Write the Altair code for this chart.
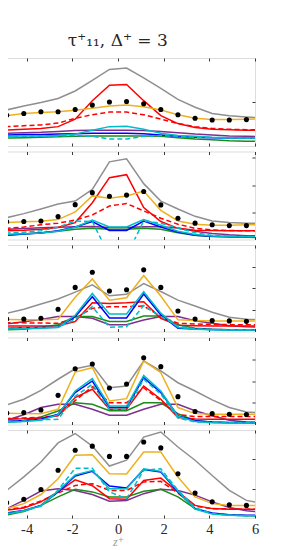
import altair as alt
import pandas as pd

# x positions of the model curves and of the reference (DNS) dots
LX = [-5.625, -4.875, -4.125, -3.375, -2.625, -1.875, -1.125, -0.375,
      0.375, 1.125, 1.875, 2.625, 3.375, 4.125, 4.875, 5.625, 6.375]
DX = LX[:16]

# draw order, colours and dash styles of the model curves
SERIES = ["gray", "purple", "green", "red", "red_d", "yellow", "blue", "cyan", "cyan_d"]
COLORS = {"gray": "#8f8f8f", "purple": "#7e2f8e", "green": "#1a8c1a", "red": "#ff0000",
          "red_d": "#ff0000", "yellow": "#edb120", "blue": "#0000ff", "cyan": "#00bcc8",
          "cyan_d": "#00bcc8"}
DASHED = {"red_d", "cyan_d"}

# ---- panel 1 ----
p1_gray   = [0.76,0.82,0.91,0.99,1.08,1.25,1.49,1.74,1.77,1.55,1.31,1.06,0.88,0.74,0.69,0.66,0.63]
p1_red    = [0.35,0.36,0.38,0.40,0.44,0.61,1.03,1.38,1.40,1.03,0.69,0.51,0.42,0.38,0.37,0.36,0.36]
p1_red_d  = [0.41,0.44,0.46,0.48,0.52,0.63,0.71,0.77,0.77,0.71,0.61,0.51,0.44,0.40,0.38,0.37,0.37]
p1_yellow = [0.65,0.69,0.74,0.76,0.78,0.81,0.86,0.91,0.93,0.89,0.82,0.71,0.63,0.60,0.60,0.61,0.62]
p1_purple = [0.28,0.29,0.30,0.31,0.33,0.35,0.36,0.36,0.36,0.35,0.33,0.30,0.27,0.25,0.23,0.22,0.21]
p1_green  = [0.17,0.18,0.19,0.20,0.21,0.22,0.23,0.23,0.23,0.23,0.22,0.19,0.16,0.14,0.12,0.11,0.11]
p1_blue   = [0.25,0.25,0.26,0.26,0.27,0.28,0.29,0.29,0.29,0.28,0.25,0.22,0.20,0.19,0.18,0.18,0.18]
p1_cyan   = [0.22,0.22,0.23,0.23,0.24,0.27,0.36,0.44,0.45,0.38,0.29,0.24,0.22,0.20,0.19,0.18,0.18]
p1_cyan_d = [0.21,0.21,0.22,0.22,0.23,0.24,0.22,0.16,0.16,0.22,0.24,0.22,0.20,0.19,0.18,0.18,0.18]
p1_dots   = [0.68,0.70,0.74,0.78,0.78,0.83,0.93,1.00,1.01,0.96,0.83,0.71,0.63,0.59,0.59,0.60]

# ---- panel 2 ----
p2_gray   = [0.72,0.80,0.95,1.12,1.30,1.41,1.84,2.85,2.96,2.05,1.41,1.12,0.85,0.68,0.62,0.60,0.59]
p2_red    = [0.29,0.32,0.34,0.38,0.44,0.62,1.35,2.27,2.38,1.17,0.66,0.41,0.34,0.33,0.32,0.32,0.32]
p2_red_d  = [0.38,0.41,0.46,0.54,0.60,0.71,0.90,1.23,1.32,1.05,0.78,0.56,0.41,0.35,0.33,0.32,0.32]
p2_yellow = [0.60,0.62,0.65,0.67,0.73,1.01,1.60,1.51,1.60,1.78,1.07,0.68,0.56,0.52,0.52,0.54,0.54]
p2_purple = [0.34,0.37,0.40,0.43,0.45,0.47,0.48,0.44,0.44,0.47,0.47,0.42,0.30,0.22,0.17,0.14,0.13]
p2_green  = [0.12,0.15,0.20,0.25,0.30,0.38,0.41,0.38,0.38,0.41,0.38,0.25,0.16,0.11,0.09,0.08,0.07]
p2_blue   = [0.13,0.16,0.20,0.24,0.32,0.46,0.66,0.33,0.33,0.68,0.46,0.27,0.16,0.12,0.11,0.10,0.10]
p2_cyan   = [0.17,0.19,0.21,0.24,0.30,0.45,0.71,0.46,0.46,0.73,0.52,0.30,0.18,0.13,0.11,0.10,0.10]
p2_cyan_d = [0.22,0.24,0.27,0.32,0.45,0.68,0.66,-0.60,-0.60,0.68,0.60,0.42,0.25,0.15,0.12,0.11,0.10]
p2_dots   = [0.64,0.65,0.66,0.68,0.84,1.28,1.72,1.59,1.63,1.76,1.27,0.78,0.60,0.54,0.51,0.51]

# ---- panel 3 ----
p3_gray   = [0.72,0.84,1.03,1.27,1.50,1.82,2.16,1.65,1.72,2.22,1.85,1.45,1.18,0.89,0.66,0.57,0.54]
p3_red    = [0.25,0.25,0.25,0.25,0.27,0.46,1.33,1.30,1.33,1.38,0.61,0.29,0.27,0.26,0.26,0.26,0.26]
p3_red_d  = [0.41,0.41,0.40,0.39,0.38,0.61,1.07,1.15,1.15,1.18,0.69,0.38,0.35,0.33,0.32,0.31,0.31]
p3_yellow = [0.57,0.55,0.54,0.54,0.57,1.58,2.43,1.45,1.56,2.59,1.64,0.54,0.51,0.49,0.49,0.49,0.49]
p3_purple = [0.33,0.35,0.45,0.55,0.69,0.69,0.61,0.31,0.31,0.53,0.69,0.69,0.50,0.38,0.27,0.22,0.20]
p3_green  = [0.08,0.08,0.10,0.20,0.31,0.69,0.69,0.46,0.46,0.72,0.72,0.31,0.15,0.10,0.08,0.08,0.08]
p3_blue   = [0.15,0.15,0.17,0.18,0.20,0.69,1.61,0.63,0.63,1.73,0.77,0.15,0.11,0.09,0.08,0.08,0.08]
p3_cyan   = [0.12,0.12,0.13,0.15,0.18,0.75,1.76,0.81,0.81,1.84,0.85,0.18,0.10,0.08,0.07,0.07,0.07]
p3_cyan_d = [0.16,0.16,0.17,0.18,0.20,0.55,1.15,0.20,0.22,1.20,0.70,0.25,0.12,0.09,0.08,0.08,0.08]
p3_dots   = [0.58,0.58,0.58,0.61,1.03,2.04,2.74,1.87,1.93,2.85,2.04,0.95,0.58,0.51,0.49,0.47]

# ---- panel 4 ----
p4_gray   = [0.70,0.90,1.16,1.57,2.08,2.56,2.72,1.69,1.77,2.92,2.46,1.92,1.54,1.13,0.78,0.58,0.52]
p4_red    = [0.22,0.24,0.26,0.30,0.40,1.24,1.62,0.70,0.70,1.77,1.16,0.32,0.25,0.24,0.24,0.24,0.24]
p4_red_d  = [0.27,0.28,0.30,0.33,0.42,1.10,1.74,1.00,1.00,1.69,1.10,0.45,0.37,0.37,0.37,0.37,0.37]
p4_yellow = [0.50,0.52,0.50,0.49,0.70,2.41,2.61,1.08,1.19,2.92,2.38,0.78,0.50,0.47,0.47,0.47,0.47]
p4_purple = [0.10,0.20,0.45,0.78,0.93,0.93,0.70,0.43,0.43,0.70,0.93,0.93,0.63,0.40,0.20,0.12,0.09]
p4_green  = [0.09,0.11,0.15,0.35,0.62,1.00,0.93,0.63,0.63,1.00,1.00,0.50,0.18,0.10,0.08,0.07,0.06]
p4_blue   = [0.14,0.15,0.18,0.24,0.47,1.47,2.00,0.78,0.78,2.15,1.47,0.40,0.17,0.11,0.09,0.09,0.09]
p4_cyan   = [0.10,0.11,0.14,0.20,0.45,1.54,2.11,0.85,0.85,2.26,1.54,0.38,0.14,0.08,0.07,0.07,0.07]
p4_cyan_d = [0.12,0.13,0.16,0.22,0.24,1.30,1.85,0.70,0.70,2.08,1.40,0.30,0.12,0.09,0.08,0.08,0.08]
p4_dots   = [0.50,0.52,0.55,0.67,1.34,2.56,2.78,1.68,1.86,3.07,2.66,1.28,0.60,0.50,0.47,0.46]

# ---- panel 5 ----
p5_gray   = [0.85,0.94,1.40,1.91,2.56,2.88,2.45,1.77,1.97,2.76,2.93,2.42,1.97,1.45,0.94,0.60,0.49]
p5_red    = [0.24,0.27,0.34,0.55,0.89,1.30,1.10,0.66,0.64,1.28,1.36,0.89,0.43,0.32,0.30,0.30,0.30]
p5_red_d  = [0.26,0.29,0.37,0.58,0.85,1.11,1.17,0.94,0.94,1.23,1.25,0.85,0.40,0.32,0.31,0.30,0.30]
p5_yellow = [0.28,0.32,0.49,0.80,1.34,2.14,2.16,1.51,1.50,2.25,2.25,1.40,0.72,0.49,0.43,0.43,0.43]
p5_purple = [0.22,0.32,0.60,0.92,1.00,0.94,0.80,0.57,0.60,0.83,0.98,0.94,0.78,0.55,0.36,0.25,0.20]
p5_green  = [0.07,0.10,0.22,0.43,0.72,0.98,0.89,0.72,0.72,0.91,0.98,0.72,0.32,0.15,0.10,0.08,0.07]
p5_blue   = [0.15,0.17,0.26,0.43,0.89,1.43,1.59,1.09,1.02,1.65,1.57,0.89,0.32,0.17,0.11,0.09,0.09]
p5_cyan   = [0.12,0.14,0.24,0.42,0.92,1.47,1.62,1.00,1.00,1.68,1.59,0.92,0.30,0.14,0.09,0.08,0.08]
p5_cyan_d = [0.13,0.15,0.25,0.40,0.95,1.70,1.70,0.89,0.66,1.62,1.68,0.95,0.35,0.15,0.10,0.08,0.08]
p5_dots   = [0.45,0.52,0.64,0.97,1.63,2.31,2.45,2.10,2.10,2.59,2.39,1.51,0.85,0.55,0.45,0.43]

Y_DOMAINS = [[0, 2], [0, 3.23], [0, 4], [0, 4], [0, 3]]
Y_TICKS = [[1], [1, 2, 3], [1, 2, 3], [1, 2, 3], [1, 2]]
HEIGHTS = [88, 88, 86.5, 87, 88]
X_TICKS = [-4, -2, 0, 2, 4, 6]

PANELS = [
    {"gray": p1_gray, "red": p1_red, "red_d": p1_red_d, "yellow": p1_yellow, "purple": p1_purple,
     "green": p1_green, "blue": p1_blue, "cyan": p1_cyan, "cyan_d": p1_cyan_d, "dots": p1_dots},
    {"gray": p2_gray, "red": p2_red, "red_d": p2_red_d, "yellow": p2_yellow, "purple": p2_purple,
     "green": p2_green, "blue": p2_blue, "cyan": p2_cyan, "cyan_d": p2_cyan_d, "dots": p2_dots},
    {"gray": p3_gray, "red": p3_red, "red_d": p3_red_d, "yellow": p3_yellow, "purple": p3_purple,
     "green": p3_green, "blue": p3_blue, "cyan": p3_cyan, "cyan_d": p3_cyan_d, "dots": p3_dots},
    {"gray": p4_gray, "red": p4_red, "red_d": p4_red_d, "yellow": p4_yellow, "purple": p4_purple,
     "green": p4_green, "blue": p4_blue, "cyan": p4_cyan, "cyan_d": p4_cyan_d, "dots": p4_dots},
    {"gray": p5_gray, "red": p5_red, "red_d": p5_red_d, "yellow": p5_yellow, "purple": p5_purple,
     "green": p5_green, "blue": p5_blue, "cyan": p5_cyan, "cyan_d": p5_cyan_d, "dots": p5_dots},
]

FRAME = "#3a3a3a"
SERIF = "Liberation Serif, DejaVu Serif, serif"
x_scale = alt.Scale(domain=[-6, 6], nice=False, zero=False)

panels = []
for i, pdata in enumerate(PANELS):
    last = i == len(PANELS) - 1
    y_scale = alt.Scale(domain=Y_DOMAINS[i], nice=False, zero=False)
    layers = []
    for j, s in enumerate(SERIES):
        df = pd.DataFrame({"x": LX, "y": pdata[s]})
        mark_kw = dict(clip=True, color=COLORS[s], strokeWidth=1.5)
        if s in DASHED:
            mark_kw["strokeDash"] = [5, 3]
        if j == 0:
            ax_kw = dict(orient="bottom", values=X_TICKS, tickSize=3, offset=-3, domain=False,
                         grid=False, tickColor=FRAME, tickWidth=1)
            if last:
                ax_kw.update(labels=True, labelFlush=False, labelOverlap=False,
                             labelExpr="'' + datum.value", labelFont=SERIF,
                             labelFontSize=14.5, labelColor="#262626", labelPadding=4,
                             title="z⁺", titleFont=SERIF, titleFontStyle="italic",
                             titleFontWeight="normal", titleFontSize=12, titleColor="#9a9a9a",
                             titlePadding=1)
            else:
                ax_kw.update(labels=False, title=None)
            xax = alt.Axis(**ax_kw)
            yax = alt.Axis(orient="right", values=Y_TICKS[i], tickSize=3, offset=-3,
                           domain=False, grid=False, labels=False, title=None,
                           tickColor=FRAME, tickWidth=1)
            enc = dict(x=alt.X("x:Q", scale=x_scale, axis=xax),
                       y=alt.Y("y:Q", scale=y_scale, axis=yax))
        else:
            enc = dict(x=alt.X("x:Q", scale=x_scale, axis=None),
                       y=alt.Y("y:Q", scale=y_scale, axis=None))
        layers.append(alt.Chart(df).mark_line(**mark_kw).encode(**enc))
    ddf = pd.DataFrame({"x": DX, "y": pdata["dots"]})
    dots = alt.Chart(ddf).mark_circle(size=26, color="black", opacity=1, clip=True).encode(
        x=alt.X("x:Q", scale=x_scale,
                axis=alt.Axis(orient="top", values=X_TICKS, tickSize=3, offset=-3, domain=False,
                              grid=False, labels=False, title=None, tickColor=FRAME, tickWidth=1)),
        y=alt.Y("y:Q", scale=y_scale, axis=None),
    )
    layers.append(dots)
    panel = alt.layer(*layers).resolve_axis(x="independent", y="independent").properties(
        width=274, height=HEIGHTS[i])
    panels.append(panel)

chart = alt.vconcat(*panels, spacing=3.5).properties(
    title=alt.TitleParams(text="τ⁺₁₁, Δ⁺ = 3", font="DejaVu Serif, Liberation Serif, serif",
                          fontSize=17, fontWeight="normal", color="#262626", anchor="middle",
                          offset=7, dx=-2),
    padding={"left": -28, "top": 24, "right": 0, "bottom": 0},
).configure_view(stroke=FRAME, strokeWidth=1).configure(background="white")

chart.save("out.html", embed_options={"renderer": "svg", "actions": False})
